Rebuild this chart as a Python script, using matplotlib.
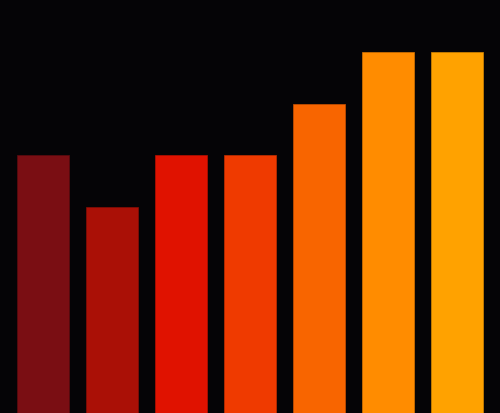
import matplotlib
matplotlib.use("Agg")
import matplotlib.pyplot as plt

# Данные столбцов
categories = ["A", "B", "C", "D", "E", "F", "G"]
values = [5, 4, 5, 5, 6, 7, 7]
colors = ["#7a0e13", "#aa1006", "#e01200", "#ef3a00", "#f86500", "#ff8c00", "#ffa200"]
edges = ["#5e0a0e", "#880c04", "#b80e00", "#c42e00", "#cc5200", "#d87400", "#d88800"]

BG = "#050406"

fig = plt.figure(figsize=(5.0, 4.14), dpi=100)
fig.patch.set_facecolor(BG)
ax = fig.add_axes([0, 0, 1, 1])
ax.set_facecolor(BG)

x = list(range(len(categories)))
ax.bar(x, values, width=0.75, color=colors, edgecolor=edges, linewidth=0.5)

ax.set_xlim(-0.623, 6.623)
ax.set_ylim(0, 8.03)
ax.axis("off")

fig.savefig("out.png", dpi=100, facecolor=BG)
